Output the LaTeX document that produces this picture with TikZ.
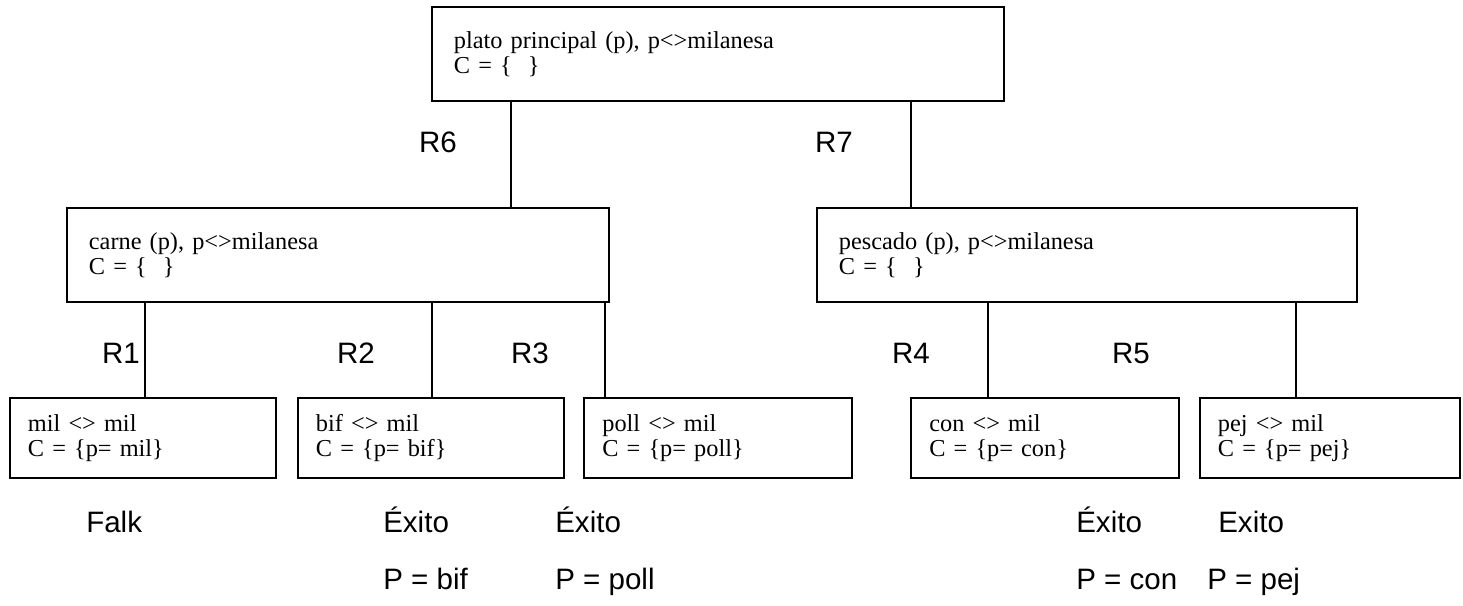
\documentclass[tikz,border=0pt]{standalone}
\usepackage{fontspec}
\setmainfont{Liberation Serif}
\newfontfamily\arial{Liberation Sans}
\usetikzlibrary{positioning}

\begin{document}
\begin{tikzpicture}[
        x=0.025cm, y=-0.025cm,
        caja/.style={rectangle, draw, line width=1.3pt, minimum height=2.35cm, inner xsep=0.55cm, align=left, font=\fontsize{17.3}{18}\selectfont},
        hoja/.style={rectangle, draw, line width=1.3pt, minimum height=2cm, inner xsep=0.45cm, align=left, font=\fontsize{17.3}{17.5}\selectfont},
        regla/.style={font=\arial\fontsize{21}{25}\selectfont},
        resultado/.style={anchor=base west, inner sep=0, font=\arial\fontsize{21}{25}\selectfont},
        rama/.style={line width=1pt}
    ]
        \useasboundingbox (0,0) rectangle (1463,605);

        % Arbol de busqueda
        \node[caja, text width=13.2cm] (raiz) at (718,54) {plato principal (p), p<>milanesa\\C = \{ \ \}\\[-11pt]};
        \node[caja, text width=12.45cm] (carne) at (338,255) {carne (p), p<>milanesa\\C = \{ \ \}\\[-11pt]};
        \node[caja, text width=12.4cm] (pescado) at (1087,255) {pescado (p), p<>milanesa\\C = \{ \ \}\\[-11pt]};

        \node[hoja, text width=5.75cm] (mil) at (143,438) {mil <> mil\\C = \{p= mil\}};
        \node[hoja, text width=5.75cm] (bif) at (431,438) {bif <> mil\\C = \{p= bif\}};
        \node[hoja, text width=5.78cm] (poll) at (718,438) {poll <> mil\\C = \{p= poll\}};
        \node[hoja, text width=5.78cm] (con) at (1045,438) {con <> mil\\C = \{p= con\}};
        \node[hoja, text width=5.6cm] (pej) at (1330,438) {pej <> mil\\C = \{p= pej\}};

        % Ramas
        \draw[rama] (raiz.south -| 511,0) -- (carne.north -| 511,0);
        \draw[rama] (raiz.south -| 911,0) -- (pescado.north -| 911,0);
        \draw[rama] (carne.south -| 145,0) -- (mil.north -| 145,0);
        \draw[rama] (carne.south -| 432,0) -- (bif.north -| 432,0);
        \draw[rama] (carne.south -| 605,0) -- (poll.north -| 605,0);
        \draw[rama] (pescado.south -| 988,0) -- (con.north -| 988,0);
        \draw[rama] (pescado.south -| 1296,0) -- (pej.north -| 1296,0);

        % Reglas
        \node[regla] (r6) at (438,142) {R6};
        \node[regla] (r7) at (834,142) {R7};
        \node[regla] (r1) at (121,353) {R1};
        \node[regla] (r2) at (356,353) {R2};
        \node[regla] (r3) at (530,353) {R3};
        \node[regla] (r4) at (911,353) {R4};
        \node[regla] (r5) at (1131,353) {R5};

        % Resultados
        \node[resultado] (falk) at (86,532) {Falk};
        \node[resultado] (exbif) at (383,532) {Éxito};
        \node[resultado] (expoll) at (555,532) {Éxito};
        \node[resultado] (excon) at (1076,532) {Éxito};
        \node[resultado] (expej) at (1218,532) {Exito};
        \node[resultado] (pbif) at (383,589) {P = bif};
        \node[resultado] (ppoll) at (555,589) {P = poll};
        \node[resultado] (pcon) at (1076,589) {P = con};
        \node[resultado] (ppej) at (1207,589) {P = pej};
    \end{tikzpicture}
\end{document}
